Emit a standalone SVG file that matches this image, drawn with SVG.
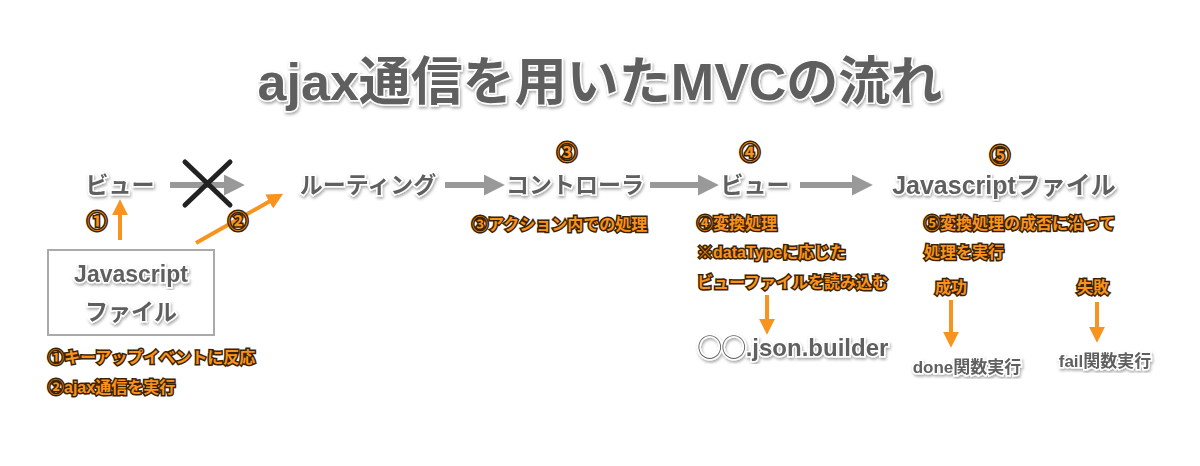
<svg xmlns="http://www.w3.org/2000/svg" width="1200" height="466" viewBox="0 0 1200 466">
<defs>
<style>
.g{font-family:"Liberation Sans","Noto Sans CJK JP",sans-serif;font-weight:bold;fill:#5e5e5e;stroke:#fff;stroke-width:3;paint-order:stroke}
.o{font-family:"Liberation Sans","Noto Sans CJK JP",sans-serif;font-weight:bold;fill:#f7931e;stroke:#3a2200;stroke-width:3;paint-order:stroke;font-size:16px}
.ga{stroke:#999;stroke-width:6;fill:none}
.oa{stroke:#f7931e;stroke-width:4;fill:none}
</style>
<filter id="sh"><feDropShadow dx="1" dy="2" stdDeviation="1.5" flood-color="#000" flood-opacity="0.35"/></filter>
<marker id="gm" viewBox="0 0 10 10" refX="2" refY="5" markerWidth="3.5" markerHeight="3.5" orient="auto"><path d="M0,0L10,5L0,10z" fill="#999"/></marker>
<marker id="om" viewBox="0 0 10 10" refX="2" refY="5" markerWidth="4" markerHeight="4" orient="auto"><path d="M0,0L10,5L0,10z" fill="#f7931e"/></marker>
</defs>
<rect width="1200" height="466" fill="#fff"/>
<text x="600" y="100" text-anchor="middle" class="g" font-size="52" filter="url(#sh)">ajax通信を用いたMVCの流れ</text>
<g id="connectors">
<line x1="170" y1="185" x2="228" y2="185" class="ga" marker-end="url(#gm)"/>
<line x1="445" y1="185" x2="488" y2="185" class="ga" marker-end="url(#gm)"/>
<line x1="650" y1="185" x2="702" y2="185" class="ga" marker-end="url(#gm)"/>
<line x1="800" y1="185" x2="856" y2="185" class="ga" marker-end="url(#gm)"/>
<line x1="120" y1="240" x2="120" y2="212" class="oa" marker-end="url(#om)"/>
<line x1="196" y1="243" x2="272" y2="200" class="oa" stroke-width="6" marker-end="url(#om)"/>
<line x1="767" y1="295" x2="767" y2="322" class="oa" marker-end="url(#om)"/>
<line x1="951" y1="300" x2="951" y2="335" class="oa" marker-end="url(#om)"/>
<line x1="1097" y1="302" x2="1097" y2="330" class="oa" marker-end="url(#om)"/>
<path d="M185,162L230,205M230,162L185,205" stroke="#222" stroke-width="5" stroke-linecap="round"/>
</g>
<g id="view1"><text x="120" y="193" text-anchor="middle" class="g" font-size="23" filter="url(#sh)">ビュー</text></g>
<g id="jsfile"><rect x="48" y="250" width="166" height="85" fill="#fff" stroke="#aaa" stroke-width="2"/>
<text x="131" y="282" text-anchor="middle" class="g" font-size="23" filter="url(#sh)">Javascript</text>
<text x="131" y="320" text-anchor="middle" class="g" font-size="23" filter="url(#sh)">ファイル</text></g>
<g id="routing"><text x="368" y="193" text-anchor="middle" class="g" font-size="23" filter="url(#sh)">ルーティング</text></g>
<g id="controller"><text x="575" y="193" text-anchor="middle" class="g" font-size="23" filter="url(#sh)">コントローラ</text></g>
<g id="view2"><text x="755" y="193" text-anchor="middle" class="g" font-size="23" filter="url(#sh)">ビュー</text></g>
<g id="jsfile2"><text x="1004" y="194" text-anchor="middle" class="g" font-size="25" filter="url(#sh)">Javascriptファイル</text></g>
<g id="builder"><text x="793" y="356" text-anchor="middle" class="g" font-size="24" filter="url(#sh)">◯◯.json.builder</text></g>
<g id="done"><text x="967" y="373" text-anchor="middle" class="g" font-size="17" filter="url(#sh)">done関数実行</text></g>
<g id="fail"><text x="1105" y="367" text-anchor="middle" class="g" font-size="17" filter="url(#sh)">fail関数実行</text></g>
<g id="labels">
<text x="97" y="229" text-anchor="middle" class="o" style="font-size:20px">①</text>
<text x="238" y="229" text-anchor="middle" class="o" style="font-size:20px">②</text>
<text x="567" y="160" text-anchor="middle" class="o" style="font-size:20px">③</text>
<text x="750" y="160" text-anchor="middle" class="o" style="font-size:20px">④</text>
<text x="1000" y="163" text-anchor="middle" class="o" style="font-size:20px">⑤</text>
<text x="48" y="363" class="o">①キーアップイベントに反応</text>
<text x="48" y="393" class="o">②ajax通信を実行</text>
<text x="472" y="230" class="o">③アクション内での処理</text>
<text x="697" y="229" class="o">④変換処理</text>
<text x="697" y="258" class="o">※dataTypeに応じた</text>
<text x="697" y="288" class="o">ビューファイルを読み込む</text>
<text x="924" y="229" class="o">⑤変換処理の成否に沿って</text>
<text x="924" y="258" class="o">処理を実行</text>
<text x="935" y="293" class="o">成功</text>
<text x="1077" y="293" class="o">失敗</text>
</g>
</svg>
